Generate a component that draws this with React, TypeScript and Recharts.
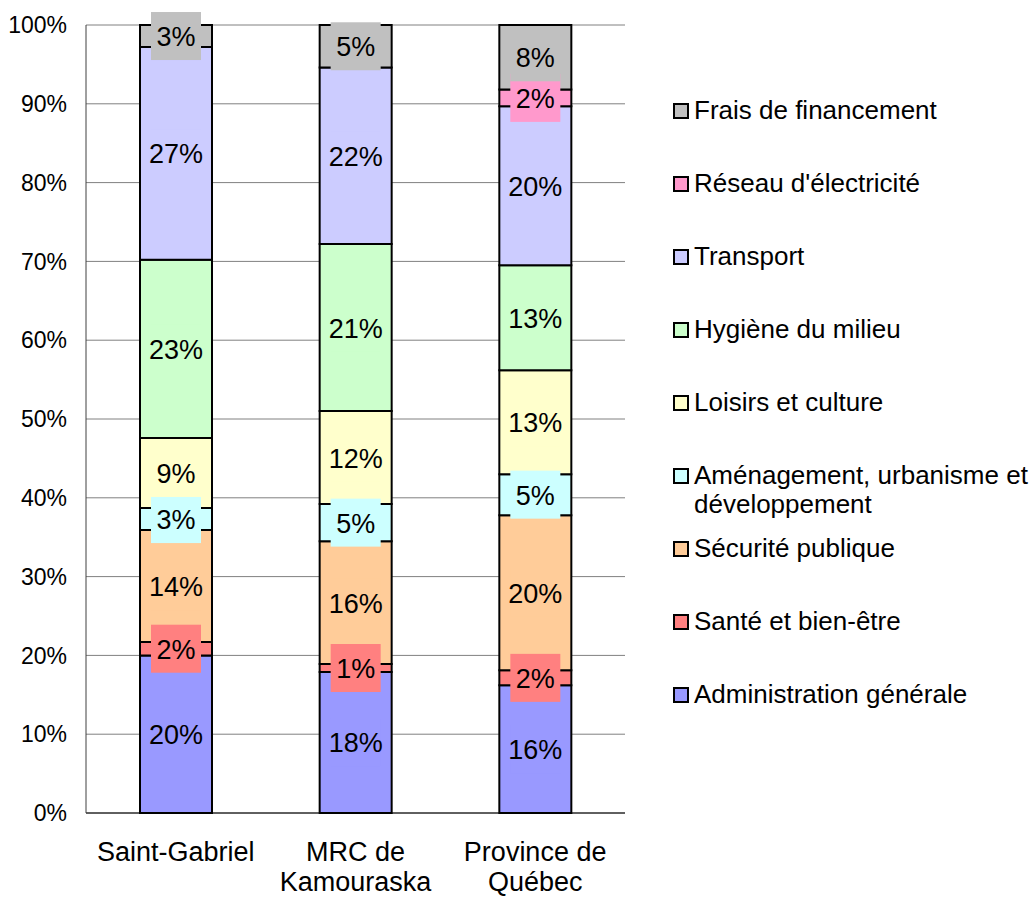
import { BarChart, Bar, XAxis, YAxis, CartesianGrid, Legend, LabelList } from "recharts"

const categories = ["Saint-Gabriel", "MRC de Kamouraska", "Province de Québec"]

// shares in % for each category, bottom of the stack first
const administration = [20.0, 17.9, 16.2]
const sante = [1.7, 1.0, 1.9]
const securite = [14.2, 15.6, 19.7]
const amenagement = [2.8, 4.7, 5.2]
const loisirs = [8.9, 11.8, 13.2]
const hygiene = [22.6, 21.2, 13.3]
const transport = [27.0, 22.4, 20.2]
const reseau = [0, 0, 2.1]
const frais = [2.8, 5.4, 8.2]

const yTicks = [0, 10, 20, 30, 40, 50, 60, 70, 80, 90, 100]

const series = [
  { key: "administration", name: "Administration générale", color: "#9999FF", values: administration },
  { key: "sante", name: "Santé et bien-être", color: "#FF8080", values: sante },
  { key: "securite", name: "Sécurité publique", color: "#FFCC99", values: securite },
  { key: "amenagement", name: "Aménagement, urbanisme et développement", color: "#CCFFFF", values: amenagement },
  { key: "loisirs", name: "Loisirs et culture", color: "#FFFFCC", values: loisirs },
  { key: "hygiene", name: "Hygiène du milieu", color: "#CCFFCC", values: hygiene },
  { key: "transport", name: "Transport", color: "#CCCCFF", values: transport },
  { key: "reseau", name: "Réseau d'électricité", color: "#FF99CC", values: reseau },
  { key: "frais", name: "Frais de financement", color: "#C0C0C0", values: frais },
]

const data = categories.map((name, i) => {
  const row: Record<string, string | number> = { name }
  series.forEach((s) => {
    row[s.key] = s.values[i]
  })
  return row
})

function wrapWords(text: string, maxChars: number) {
  const lines: string[] = []
  let cur = ""
  text.split(" ").forEach((w) => {
    const next = cur ? `${cur} ${w}` : w
    if (next.length > maxChars && cur) {
      lines.push(cur)
      cur = w
    } else {
      cur = next
    }
  })
  if (cur) lines.push(cur)
  return lines
}

function boxLabel(color: string) {
  return (props: any) => {
    const { x, y, width, height, value } = props
    if (!value) return null
    const cx = Number(x) + Number(width) / 2
    const cy = Number(y) + Number(height) / 2
    return (
      <g>
        <rect x={cx - 25} y={cy - 24} width={50} height={48} fill={color} />
        <text x={cx} y={cy + 1} textAnchor="middle" dominantBaseline="central" fontSize={27} fill="#000">
          {Math.round(value)}%
        </text>
      </g>
    )
  }
}

function CategoryTick(props: any) {
  const { x, y, payload } = props
  const lines = wrapWords(String(payload.value), 13)
  return (
    <text x={x} y={y + 40} textAnchor="middle" fontSize={27} fill="#000">
      {lines.map((l, i) => (
        <tspan key={i} x={x} dy={i === 0 ? 0 : 30}>
          {l}
        </tspan>
      ))}
    </text>
  )
}

function LegendBox() {
  return (
    <div>
      {[...series].reverse().map((s) => (
        <div key={s.key} style={{ display: "flex", alignItems: "flex-start", height: 73 }}>
          <span
            style={{
              boxSizing: "border-box",
              width: 16,
              height: 16,
              border: "2px solid #000",
              background: s.color,
              marginTop: 7,
              marginRight: 5,
              flex: "none",
            }}
          />
          <span style={{ fontSize: 26, lineHeight: "29px", width: 345, color: "#000", whiteSpace: "normal" }}>{s.name}</span>
        </div>
      ))}
    </div>
  )
}

export default function App() {
  return (
    <div style={{ width: 1033, height: 899, background: "#fff", fontFamily: "'Liberation Sans', Arial, sans-serif", overflow: "hidden" }}>
      <style>{"body{margin:0}"}</style>
      <BarChart width={1033} height={899} data={data} margin={{ top: 25, right: 408, bottom: 0, left: 0 }}>
        <CartesianGrid vertical={false} stroke="#808080" />
        <XAxis
          dataKey="name"
          height={86}
          axisLine={{ stroke: "#000", strokeWidth: 1 }}
          tickLine={false}
          tick={<CategoryTick />}
          interval={0}
        />
        <XAxis xAxisId="lbl" dataKey="name" hide />
        <YAxis
          width={86}
          domain={[0, 100]}
          ticks={yTicks}
          tickFormatter={(v) => `${v}%`}
          axisLine={{ stroke: "#404040" }}
          tickLine={false}
          tickMargin={13}
          tick={{ fontSize: 23, fill: "#000" }}
          interval={0}
        />
        <Legend
          layout="vertical"
          align="center"
          verticalAlign="middle"
          content={<LegendBox />}
          wrapperStyle={{ left: 673, top: 96, width: 366 }}
        />
        {series.map((s) => (
          <Bar
            key={s.key}
            dataKey={s.key}
            name={s.name}
            stackId="a"
            fill={s.color}
            stroke="#000"
            strokeWidth={2}
            barSize={72}
            isAnimationActive={false}
          />
        ))}
        {series.map((s) => (
          <Bar
            key={`lbl-${s.key}`}
            xAxisId="lbl"
            dataKey={s.key}
            stackId="b"
            fill="transparent"
            barSize={72}
            legendType="none"
            isAnimationActive={false}
          >
            <LabelList dataKey={s.key} content={boxLabel(s.color)} />
          </Bar>
        ))}
      </BarChart>
    </div>
  )
}
